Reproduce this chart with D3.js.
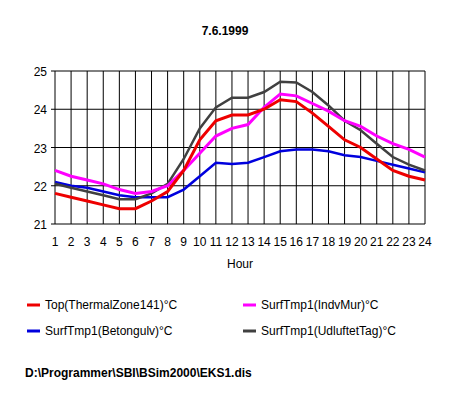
<!DOCTYPE html>
<head>
<meta charset="utf-8">
<script src="https://d3js.org/d3.v7.min.js"></script>
<style>
  body { margin: 0; background: #fff; }
  text { font-family: "Liberation Sans", Arial, sans-serif; font-size: 12px; fill: #000; }
</style>
</head>
<body>
<script>
  let hours = d3.range(1, 25);
  let y_ticks = [21, 22, 23, 24, 25];
  let top_thermal = [21.8,21.7,21.6,21.5,21.4,21.4,21.6,21.85,22.4,23.2,23.7,23.85,23.85,24.0,24.25,24.2,23.9,23.55,23.2,23.0,22.7,22.4,22.25,22.15];
  let surf_indv = [22.4,22.25,22.15,22.05,21.9,21.8,21.85,22.0,22.4,22.85,23.3,23.5,23.6,24.05,24.4,24.35,24.15,23.95,23.7,23.55,23.3,23.1,22.95,22.75];
  let surf_beton = [22.1,22.0,21.95,21.85,21.75,21.7,21.7,21.7,21.9,22.25,22.6,22.57,22.6,22.75,22.9,22.95,22.95,22.9,22.8,22.75,22.65,22.55,22.45,22.35];
  let surf_udluft = [22.05,21.95,21.85,21.75,21.65,21.65,21.8,22.05,22.7,23.5,24.05,24.3,24.3,24.45,24.72,24.7,24.45,24.1,23.7,23.45,23.1,22.75,22.55,22.4];

  let series = [
    {name: "SurfTmp1(Betongulv)°C", values: surf_beton, color: "#0000dd", w: 2.5},
    {name: "SurfTmp1(UdluftetTag)°C", values: surf_udluft, color: "#404040", w: 2.5},
    {name: "SurfTmp1(IndvMur)°C", values: surf_indv, color: "#ff00ff", w: 3},
    {name: "Top(ThermalZone141)°C", values: top_thermal, color: "#ee0000", w: 3}
  ];

  let svg = d3.select("body").append("svg").attr("width", 451).attr("height", 402);

  let x = d3.scaleLinear().domain([1, 24]).range([55, 425]);
  let y = d3.scaleLinear().domain([21, 25]).range([224, 71]);

  svg.append("text").attr("x", 225).attr("y", 35).attr("text-anchor", "middle")
    .style("font-weight", "bold").text("7.6.1999");

  // grid
  svg.append("g").selectAll("line").data(hours).enter().append("line")
    .attr("x1", d => x(d)).attr("x2", d => x(d)).attr("y1", y(25)).attr("y2", y(21))
    .style("stroke", "#000").style("stroke-width", 1);
  svg.append("g").selectAll("line").data(y_ticks).enter().append("line")
    .attr("x1", x(1) - 4).attr("x2", x(24)).attr("y1", d => y(d)).attr("y2", d => y(d))
    .style("stroke", "#000").style("stroke-width", 1);

  svg.append("g").selectAll("text").data(y_ticks).enter().append("text")
    .attr("x", x(1) - 8).attr("y", d => y(d) + 5).attr("text-anchor", "end").text(d => d);
  svg.append("g").selectAll("text").data(hours).enter().append("text")
    .attr("x", d => x(d)).attr("y", 246).attr("text-anchor", "middle").text(d => d);
  svg.append("text").attr("x", 240).attr("y", 268).attr("text-anchor", "middle").text("Hour");

  let line = d3.line().x((d, i) => x(hours[i])).y(d => y(d));
  series.forEach(s => {
    svg.append("path").datum(s.values).attr("d", line)
      .style("fill", "none").style("stroke", s.color).style("stroke-width", s.w);
  });

  // legend
  let legend = [
    {s: series[3], lx: 27, ly: 305},
    {s: series[2], lx: 243, ly: 305},
    {s: series[0], lx: 27, ly: 331},
    {s: series[1], lx: 243, ly: 331}
  ];
  legend.forEach(l => {
    svg.append("line").attr("x1", l.lx).attr("x2", l.lx + 13).attr("y1", l.ly).attr("y2", l.ly)
      .style("stroke", l.s.color).style("stroke-width", 3);
    svg.append("text").attr("x", l.lx + 18).attr("y", l.ly + 4).text(l.s.name);
  });

  svg.append("text").attr("x", 25).attr("y", 377).style("font-weight", "bold")
    .text("D:\\Programmer\\SBI\\BSim2000\\EKS1.dis");
</script>
</body>
